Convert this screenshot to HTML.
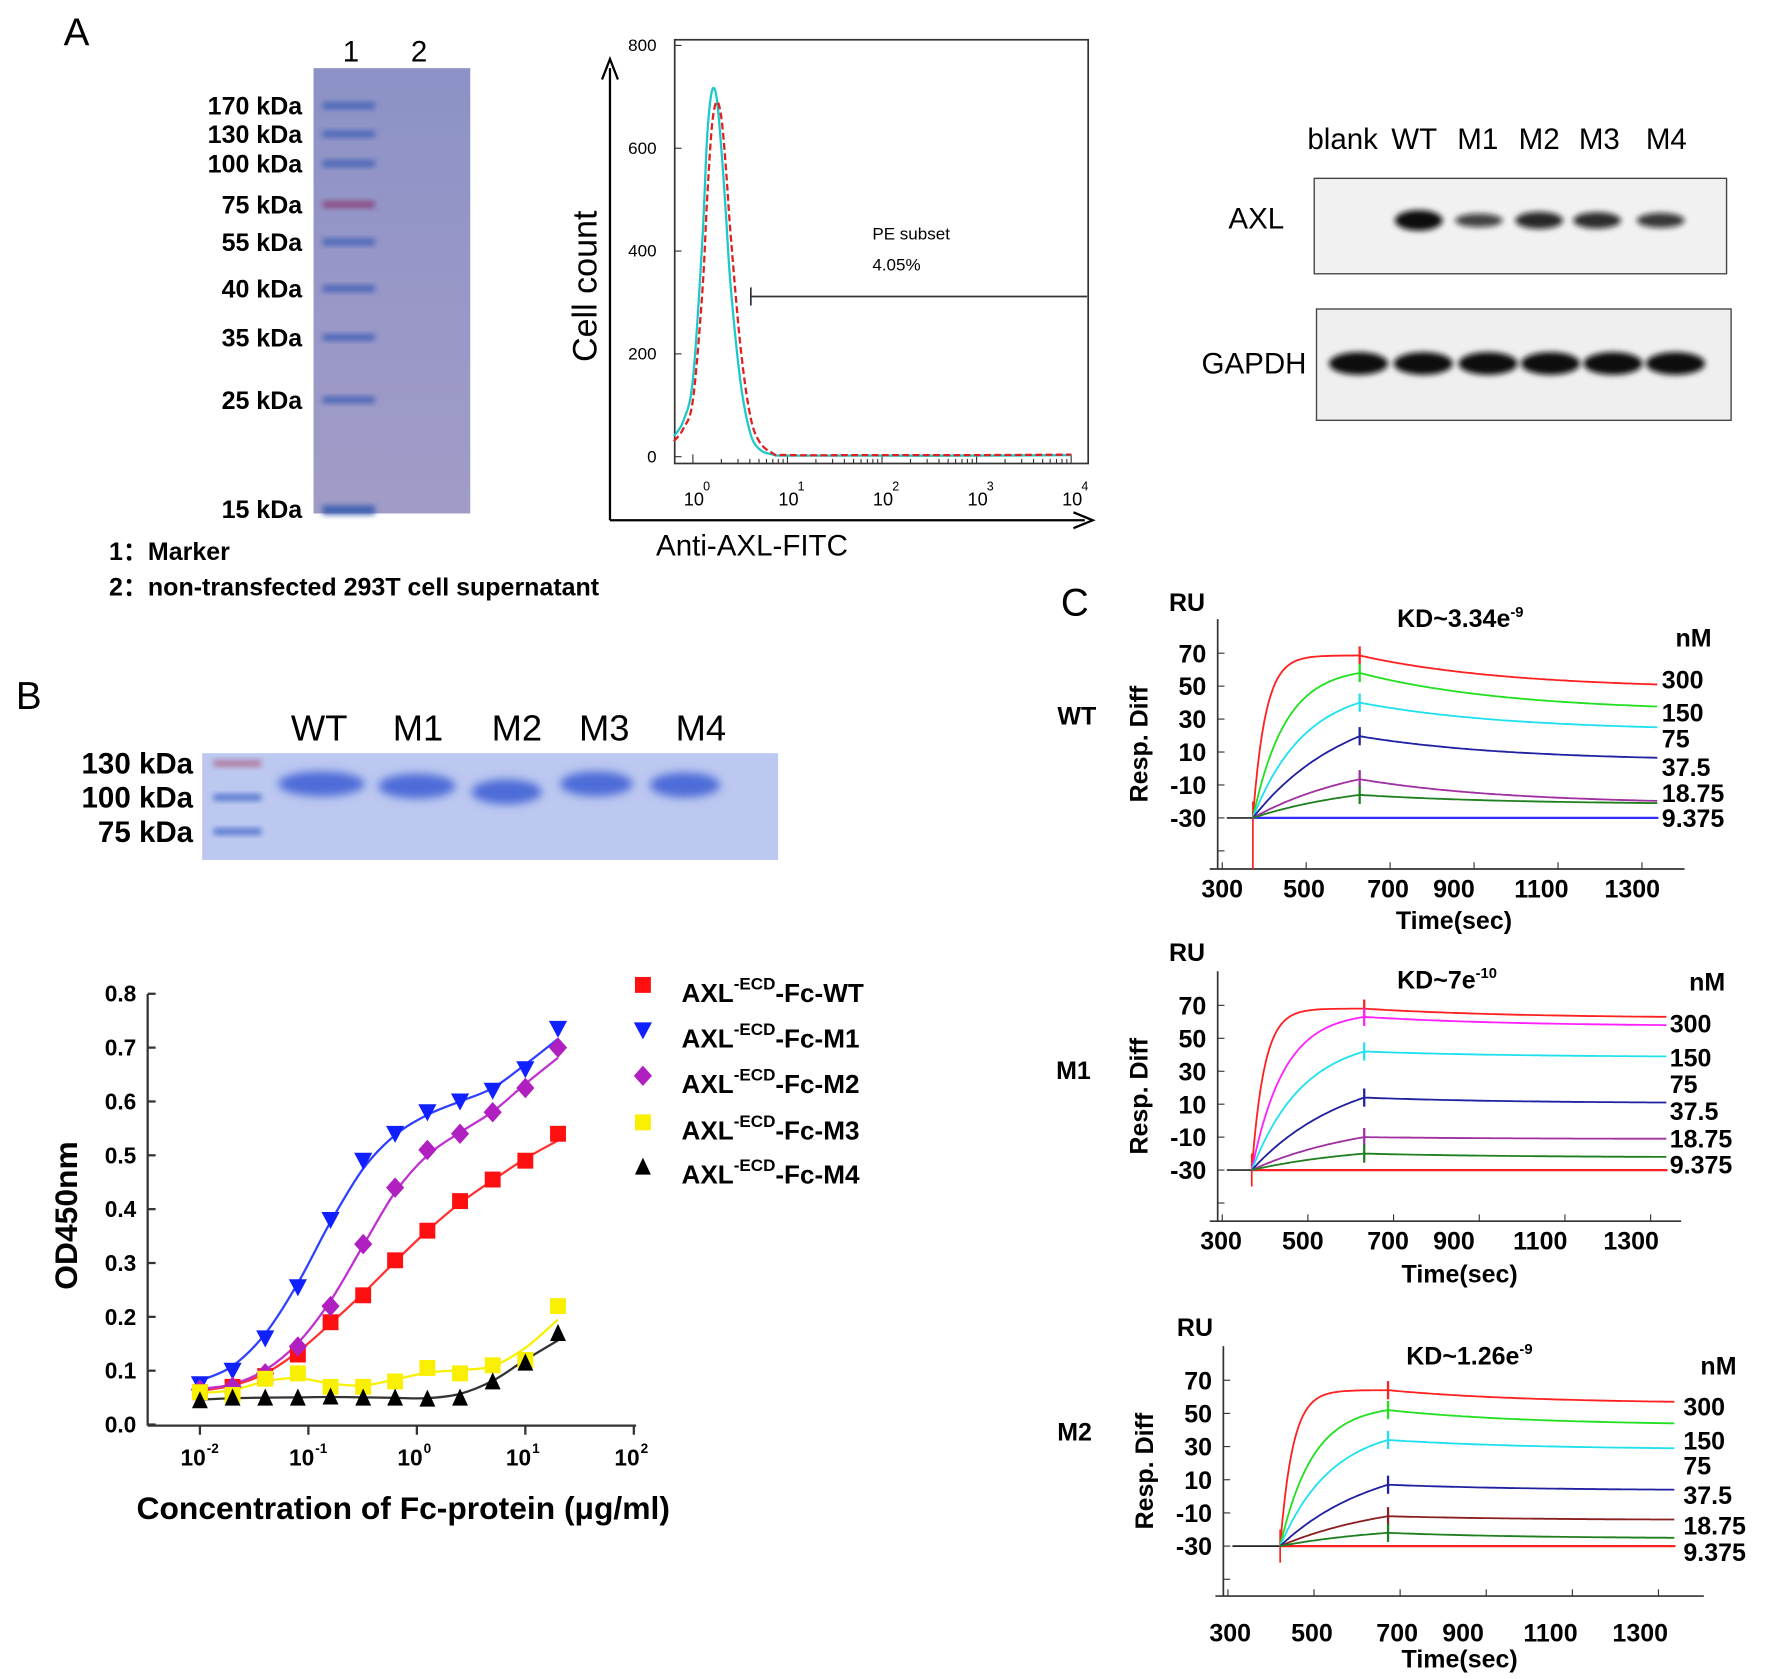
<!DOCTYPE html>
<html><head><meta charset="utf-8"><style>
html,body{margin:0;padding:0;background:#fff;}
svg{display:block;}
text{font-family:"Liberation Sans",Arial,sans-serif;}
.b{font-weight:bold;}
</style></head><body>
<svg id="fig" width="1772" height="1679" viewBox="0 0 1560 1478" preserveAspectRatio="none" xmlns="http://www.w3.org/2000/svg">
<defs>
<filter id="bl" x="-20%" y="-50%" width="140%" height="200%"><feGaussianBlur stdDeviation="2.5"/></filter>
<filter id="bl2" x="-20%" y="-50%" width="140%" height="200%"><feGaussianBlur stdDeviation="4"/></filter>
<linearGradient id="gelA" x1="0" y1="0" x2="0" y2="1"><stop offset="0" stop-color="#8c92c6"/><stop offset="0.6" stop-color="#9a98c8"/><stop offset="1" stop-color="#a09cc6"/></linearGradient>
</defs>

<text x="56" y="40" font-size="34">A</text>

<g>
<rect x="276" y="60" width="138" height="392" fill="url(#gelA)"/>
<text x="309" y="54" font-size="26" text-anchor="middle">1</text>
<text x="369" y="54" font-size="26" text-anchor="middle">2</text>
</g>
<g id="markerA"></g>
<text x="96" y="493" font-size="22" class="b">1：Marker</text>
<text x="96" y="524" font-size="22" class="b">2：non-transfected 293T cell supernatant</text>

<g id="flow"></g>
<g id="wb"></g>

<text x="14" y="624" font-size="34">B</text>
<g id="gelB"></g>
<g id="dose"></g>

<text x="934" y="542" font-size="34">C</text>
<g id="spr"></g>
</svg>
<script>
const NS="http://www.w3.org/2000/svg";
function mk(tag,attrs,parent,txt){const e=document.createElementNS(NS,tag);for(const k in attrs)e.setAttribute(k,attrs[k]);if(txt!==undefined)e.textContent=txt;parent.appendChild(e);return e;}
function smoothPath(pts){
  let d='M'+pts[0][0].toFixed(1)+','+pts[0][1].toFixed(1);
  for(let i=0;i<pts.length-1;i++){
    const p0=pts[Math.max(0,i-1)],p1=pts[i],p2=pts[i+1],p3=pts[Math.min(pts.length-1,i+2)];
    d+='C'+(p1[0]+(p2[0]-p0[0])/6).toFixed(1)+','+(p1[1]+(p2[1]-p0[1])/6).toFixed(1)+' '+(p2[0]-(p3[0]-p1[0])/6).toFixed(1)+','+(p2[1]-(p3[1]-p1[1])/6).toFixed(1)+' '+p2[0].toFixed(1)+','+p2[1].toFixed(1);
  }
  return d;
}

// ---------- Marker ladder A ----------
const ladderLabels=["170 kDa","130 kDa","100 kDa","75 kDa","55 kDa","40 kDa","35 kDa","25 kDa","15 kDa"];
const ladderY=[93,118,144,180,213,254,297,352,448];
const mA=document.getElementById('markerA');
ladderLabels.forEach((l,i)=>{
  const t=mk('text',{x:266,y:ladderY[i]+8,'font-size':22,'text-anchor':'end','class':'b'},mA,l);
  
  
  const col=i===3?'#8a4a80':(i===8?'#3c60b0':'#4a66b8');
  const b=mk('rect',{x:284,y:ladderY[i]-3,width:46,height:i===8?8:6,fill:col,filter:'url(#bl)'},mA);
  
  
});

// ---------- Flow histogram ----------
const flowLogX=[-0.2,-0.1,0,0.1,0.15,0.2,0.25,0.3,0.35,0.4,0.5,0.6,0.7,0.85,1,2,3,4];
const cyanCounts=[40,70,150,420,620,710,700,600,470,330,150,50,15,4,2,2,2,3];
const redCounts=[30,55,110,320,500,640,690,660,560,430,220,85,30,6,3,3,3,4];
const flowYTicks=[0,200,400,600,800];
(function(){
  const g=document.getElementById('flow');
  const X=v=>610+v*83.25, Y=v=>402-v*0.4525;
  mk('rect',{x:594,y:35,width:364,height:373,fill:'none',stroke:'#333','stroke-width':1.5},g);
  flowYTicks.forEach(v=>{
    mk('line',{x1:594,x2:600,y1:Y(v),y2:Y(v),stroke:'#333'},g);
    const t=mk('text',{x:578,y:Y(v)+5,'font-size':15,'text-anchor':'end'},g,v);
    
    
  });
  for(let d=0;d<=4;d++){
    mk('line',{x1:X(d),x2:X(d),y1:408,y2:400,stroke:'#333'},g);
    const t=mk('text',{x:X(d)-8,y:445,'font-size':16},g,'10');
    
    
    mk('text',{x:X(d)+9,y:432,'font-size':11},g,String(d));
    if(d<4)for(let m=2;m<10;m++){const xx=X(d+Math.log10(m));mk('line',{x1:xx,x2:xx,y1:408,y2:404,stroke:'#333'},g);}
  }
  function curve(arr,col,dash){
    const pts=flowLogX.map((v,i)=>[X(v),Y(arr[i])]);
    return mk('path',{d:smoothPath(pts),fill:'none',stroke:col,'stroke-width':2,'stroke-dasharray':dash||''},g);
  }
  const c1=curve(cyanCounts,'#1cc8c8');
  
  
  const c2=curve(redCounts,'#e02020','6,3');
  
  
  mk('line',{x1:661,x2:957,y1:261,y2:261,stroke:'#333','stroke-width':1.5},g);
  mk('line',{x1:661,x2:661,y1:253,y2:269,stroke:'#333','stroke-width':1.5},g);
  mk('text',{x:768,y:211,'font-size':15},g,'PE subset');
  mk('text',{x:768,y:238,'font-size':15},g,'4.05%');
  mk('line',{x1:537,x2:537,y1:458,y2:60,stroke:'#000','stroke-width':2},g);
  mk('path',{d:'M530,70 L537,52 L544,70',fill:'none',stroke:'#000','stroke-width':2},g);
  mk('line',{x1:537,x2:955,y1:458,y2:458,stroke:'#000','stroke-width':2},g);
  mk('path',{d:'M945,451 L962,458 L945,465',fill:'none',stroke:'#000','stroke-width':2},g);
  const yt=mk('text',{x:0,y:0,'font-size':30,'text-anchor':'middle',transform:'translate(525,252) rotate(-90)'},g,'Cell count');
  
  
  const xt=mk('text',{x:662,y:489,'font-size':26,'text-anchor':'middle'},g,'Anti-AXL-FITC');
  
  
})();

// ---------- Western blot ----------
const wbLanes=["blank","WT","M1","M2","M3","M4"];
const wbLaneX=[1182,1245,1301,1355,1408,1467];
const axlIntensity=[0,1,0.5,0.75,0.7,0.6];
(function(){
  const g=document.getElementById('wb');
  wbLanes.forEach((l,i)=>{
    const t=mk('text',{x:wbLaneX[i],y:131,'font-size':26,'text-anchor':'middle'},g,l);
    
    
  });
  mk('rect',{x:1157,y:157,width:363,height:84,fill:'#f1f1f1',stroke:'#444','stroke-width':1.2},g);
  mk('rect',{x:1159,y:272,width:365,height:98,fill:'#efefef',stroke:'#444','stroke-width':1.2},g);
  mk('text',{x:1106,y:201,'font-size':26,'text-anchor':'middle'},g,'AXL');
  mk('text',{x:1104,y:329,'font-size':26,'text-anchor':'middle'},g,'GAPDH');
  const axlX=[1185,1249,1302,1355,1406,1462];
  axlIntensity.forEach((v,i)=>{
    if(v<=0)return;
    const b=mk('ellipse',{cx:axlX[i],cy:194,rx:21,ry:3+6*v,fill:'#111','fill-opacity':0.55+0.45*v,filter:'url(#bl)'},g);
    
    
  });
  const gX=[1196,1253,1310,1365,1420,1475];
  gX.forEach(x=>{
    const b=mk('ellipse',{cx:x,cy:320,rx:26,ry:10,fill:'#111',filter:'url(#bl)'},g);
    
    
  });
})();

// ---------- Gel B ----------
const gelBLanes=["WT","M1","M2","M3","M4"];
const gelBLaneX=[281,368,455,532,617];
const gelBLadder=["130 kDa","100 kDa","75 kDa"];
const gelBLadderY=[672,702,732];
(function(){
  const g=document.getElementById('gelB');
  mk('rect',{x:178,y:663,width:507,height:94,fill:'#bcc8f0'},g);
  gelBLanes.forEach((l,i)=>{
    const t=mk('text',{x:gelBLaneX[i],y:652,'font-size':32,'text-anchor':'middle'},g,l);
    
    
  });
  gelBLadder.forEach((l,i)=>{
    const t=mk('text',{x:170,y:gelBLadderY[i]+9,'font-size':26,'text-anchor':'end','class':'b'},g,l);
    
    
    mk('rect',{x:188,y:gelBLadderY[i]-3,width:42,height:6,fill:i===0?'#b07aa0':'#5a7ad0',filter:'url(#bl)'},g);
  });
  const bx=[283,367,446,525,603], bw=[38,34,31,32,31], by=[690,692,697,690,691];
  bx.forEach((x,i)=>{
    const b=mk('ellipse',{cx:x,cy:by[i],rx:bw[i],ry:11,fill:'#4e6cd8',filter:'url(#bl2)'},g);
    
    
  });
})();

// ---------- Dose response ----------
const conc=[0.01,0.02,0.04,0.08,0.16,0.32,0.63,1.25,2.5,5,10,20];
const odWT=[0.06,0.07,0.09,0.13,0.19,0.24,0.305,0.36,0.415,0.455,0.49,0.54];
const odM1=[0.075,0.10,0.16,0.255,0.38,0.49,0.54,0.58,0.60,0.62,0.66,0.735];
const odM2=[0.065,0.07,0.095,0.145,0.22,0.335,0.44,0.51,0.54,0.58,0.625,0.70];
const odM3=[0.06,0.055,0.085,0.095,0.07,0.07,0.08,0.105,0.095,0.11,0.12,0.22];
const odM4=[0.045,0.05,0.05,0.05,0.052,0.05,0.05,0.048,0.05,0.08,0.115,0.17];
const doseYTicks=["0.0","0.1","0.2","0.3","0.4","0.5","0.6","0.7","0.8"];
const doseXTicks=[-2,-1,0,1,2];
const seriesNames=["AXL-ECD-Fc-WT","AXL-ECD-Fc-M1","AXL-ECD-Fc-M2","AXL-ECD-Fc-M3","AXL-ECD-Fc-M4"];
const legendSuffix=["WT","M1","M2","M3","M4"];
(function(){
  const g=document.getElementById('dose');
  const X=c=>367+Math.log10(c)*95.5, Y=v=>1254-v*474;
  mk('line',{x1:130,x2:130,y1:875,y2:1255,stroke:'#333','stroke-width':2},g);
  mk('line',{x1:130,x2:560,y1:1255,y2:1255,stroke:'#333','stroke-width':2},g);
  doseYTicks.forEach(t=>{
    const v=parseFloat(t);
    mk('line',{x1:130,x2:137,y1:Y(v),y2:Y(v),stroke:'#333','stroke-width':2},g);
    const e=mk('text',{x:120,y:Y(v)+7,'font-size':20,'text-anchor':'end','class':'b'},g,t);
    
    
  });
  doseXTicks.forEach(d=>{
    const x=X(Math.pow(10,d));
    mk('line',{x1:x,x2:x,y1:1255,y2:1263,stroke:'#333','stroke-width':2},g);
    const e=mk('text',{x:x-6,y:1290,'font-size':20,'text-anchor':'middle','class':'b'},g,'10');
    
    
    mk('text',{x:x+6,y:1279,'font-size':12,'class':'b'},g,String(d));
  });
  const yt=mk('text',{x:0,y:0,'font-size':28,'text-anchor':'middle','class':'b',transform:'translate(68,1070) rotate(-90)'},g,'OD450nm');
  
  
  const xt=mk('text',{x:355,y:1337,'font-size':28,'text-anchor':'middle','class':'b'},g,'Concentration of Fc-protein (μg/ml)');
  
  
  const data=[odWT,odM1,odM2,odM3,odM4];
  const cols=['#ff1010','#1020ff','#b020c0','#f8f000','#000'];
  const lcols=['#ff3030','#3040ff','#c030d0','#f8f000','#333'];
  data.forEach((arr,s)=>{
    const pts=conc.map((c,i)=>[X(c),Y(arr[i])]);
    const sm=pts.map((p,i)=>{const a=pts[Math.max(0,i-1)],b=pts[Math.min(pts.length-1,i+1)];return [p[0],(a[1]+2*p[1]+b[1])/4];});
    const p=mk('path',{d:smoothPath(sm),fill:'none',stroke:lcols[s],'stroke-width':2},g);
    
    
  });
  function marker(s,x,y){
    let e;
    if(s===0||s===3)e=mk('rect',{x:x-7,y:y-7,width:14,height:14,fill:cols[s]},g);
    else if(s===1)e=mk('path',{d:`M${x-8},${y-7}L${x+8},${y-7}L${x},${y+8}Z`,fill:cols[s]},g);
    else if(s===2)e=mk('path',{d:`M${x},${y-9}L${x+8},${y}L${x},${y+9}L${x-8},${y}Z`,fill:cols[s]},g);
    else e=mk('path',{d:`M${x-7},${y+7}L${x+7},${y+7}L${x},${y-8}Z`,fill:cols[s]},g);
    return e;
  }
  data.forEach((arr,s)=>{
    conc.forEach((c,i)=>{
      const m=marker(s,X(c),Y(arr[i]));
      
      
    });
  });
  const ly=[873,913,953,994,1033];
  seriesNames.forEach((n,s)=>{
    const m=marker(s,566,ly[s]-6);
    
    
    const t=mk('text',{x:600,y:ly[s]+9,'font-size':23,'class':'b'},g);
    
    
    mk('tspan',{},t,'AXL');
    mk('tspan',{dy:-11,'font-size':15},t,'-ECD');
    mk('tspan',{dy:11},t,'-Fc-'+legendSuffix[s]);
  });
})();

// ---------- SPR ----------
const sprConc=["300","150","75","37.5","18.75","9.375"];
const sprTimeTicks=[300,500,700,900,1100,1300];
const sprRUTicks=[70,50,30,10,-10,-30];
const wtPeak=[68.6,58,40,19.6,-6.5,-16];
const wtEnd=[51,37.6,25,6.5,-19.7,-21];
const m1Peak=[68,63,42,14,-10,-20];
const m1End=[63,58,39,11,-11,-22];
const m2Peak=[64,52,34,7,-12,-22];
const m2End=[57,44,29,4,-14,-25];
(function(){
  const g=document.getElementById('spr');
  const panels=[
    {name:'WT',peak:wtPeak,end:wtEnd,ax:1072,top:545,bot:765,xl:1065,xr:1483,y70:575,ym30:720,tickY:790,tickX:[1076,1148,1222,1280,1357,1437],tt:[1280,818],ru:[1045,538],lab:[948,638],kd:[1230,552,'KD~3.34e','-9'],nm:[1475,569],cx:1463,cy:[606,635,658,683,706,728],x0:1103,xs:1197,xe:1460,x00:1080,base:'#3030ff',cols:['#ff2020','#20e020','#20e0f0','#2020a0','#a030a0','#208020']},
    {name:'M1',peak:m1Peak,end:m1End,ax:1072,top:855,bot:1075,xl:1065,xr:1480,y70:885,ym30:1030,tickY:1100,tickX:[1075,1147,1222,1280,1356,1436],tt:[1285,1129],ru:[1045,846],lab:[945,950],kd:[1230,870,'KD~7e','-10'],nm:[1487,872],cx:1470,cy:[909,939,962,986,1010,1033],x0:1102,xs:1201,xe:1468,x00:1080,base:'#ff2020',cols:['#ff2020','#ff20ff','#20e0f0','#2020a0','#a030a0','#208020']},
    {name:'M2',peak:m2Peak,end:m2End,ax:1077,top:1185,bot:1405,xl:1070,xr:1500,y70:1215,ym30:1361,tickY:1445,tickX:[1083,1155,1230,1288,1365,1444],tt:[1285,1468],ru:[1052,1176],lab:[946,1268],kd:[1238,1201,'KD~1.26e','-9'],nm:[1497,1210],cx:1482,cy:[1246,1276,1298,1324,1351,1374],x0:1127,xs:1222,xe:1475,x00:1085,base:'#ff2020',cols:['#ff2020','#20e020','#20e0f0','#2020a0','#8b2020','#208020']}
  ];
  const rates=[0.09,0.035,0.022,0.012,0.01,0.01];
  panels.forEach(P=>{
    const pg=mk('g',{},g);
    
    
    const Y=v=>P.ym30-(v+30)*(P.ym30-P.y70)/100;
    mk('line',{x1:P.ax,x2:P.ax,y1:P.top,y2:P.bot,stroke:'#333','stroke-width':1.5},pg);
    mk('line',{x1:P.xl,x2:P.xr,y1:P.bot,y2:P.bot,stroke:'#333','stroke-width':1.5},pg);
    sprRUTicks.forEach(v=>{
      mk('line',{x1:P.ax,x2:P.ax+6,y1:Y(v),y2:Y(v),stroke:'#333'},pg);
      const t=mk('text',{x:P.ax-10,y:Y(v)+8,'font-size':22,'text-anchor':'end','class':'b'},pg,v);
      
      
    });
    mk('line',{x1:P.ax,x2:P.ax+6,y1:Y(-50),y2:Y(-50),stroke:'#333'},pg);
    sprTimeTicks.forEach((v,i)=>{
      const xx=P.ax+((P.xe-P.ax)/1050)*(v-300)+4;
      mk('line',{x1:xx,x2:xx,y1:P.bot,y2:P.bot-6,stroke:'#333'},pg);
      const t=mk('text',{x:P.tickX[i],y:P.tickY,'font-size':22,'text-anchor':'middle','class':'b'},pg,v);
      
      
    });
    const tt=mk('text',{x:P.tt[0],y:P.tt[1],'font-size':22,'text-anchor':'middle','class':'b'},pg,'Time(sec)');
    
    
    mk('text',{x:P.ru[0],y:P.ru[1],'font-size':22,'text-anchor':'middle','class':'b'},pg,'RU');
    const yt=mk('text',{x:0,y:0,'font-size':22,'text-anchor':'middle','class':'b',transform:`translate(${P.ax-62},${(P.top+P.bot)/2}) rotate(-90)`},pg,'Resp. Diff');
    
    
    mk('text',{x:P.lab[0],y:P.lab[1],'font-size':22,'text-anchor':'middle','class':'b'},pg,P.name);
    const kd=mk('text',{x:P.kd[0],y:P.kd[1],'font-size':22,'class':'b'},pg);
    
    
    mk('tspan',{},kd,P.kd[2]);mk('tspan',{dy:-9,'font-size':13},kd,P.kd[3]);
    mk('text',{x:P.nm[0],y:P.nm[1],'font-size':22,'class':'b'},pg,'nM');
    sprConc.forEach((c,i)=>{
      const t=mk('text',{x:P.cx,y:P.cy[i],'font-size':22,'class':'b'},pg,c);
      
      
    });
    mk('line',{x1:P.x00,x2:P.x0,y1:Y(-30),y2:Y(-30),stroke:'#222','stroke-width':1.5},pg);
    mk('line',{x1:P.x0,x2:P.xe,y1:Y(-30),y2:Y(-30),stroke:P.base,'stroke-width':2},pg);
    mk('line',{x1:P.x0,x2:P.x0,y1:Y(-20),y2:P.name==='WT'?P.bot:Y(-40),stroke:'#ff2020','stroke-width':1.5},pg);
    P.peak.forEach((pk,i)=>{
      const k=rates[i], T=P.xs-P.x0, en=P.end[i];
      let d='M'+P.x0+','+Y(-30);
      for(let x=P.x0+2;x<=P.xs;x+=2){
        const v=-30+(pk+30)*(1-Math.exp(-k*(x-P.x0)))/(1-Math.exp(-k*T));
        d+='L'+x+','+Y(v).toFixed(1);
      }
      const D=P.xe-P.xs;
      for(let x=P.xs+2;x<=P.xe;x+=2){
        const f=(1-Math.exp(-2*(x-P.xs)/D))/(1-Math.exp(-2));
        const v=pk+(en-pk)*f;
        d+='L'+x+','+Y(v).toFixed(1);
      }
      const p=mk('path',{d:d,fill:'none',stroke:P.cols[i],'stroke-width':1.6},pg);
      
      
      mk('line',{x1:P.xs,x2:P.xs,y1:Y(pk)-8,y2:Y(pk)+8,stroke:P.cols[i],'stroke-width':2},pg);
    });
  });
})();
</script>
</body></html>
